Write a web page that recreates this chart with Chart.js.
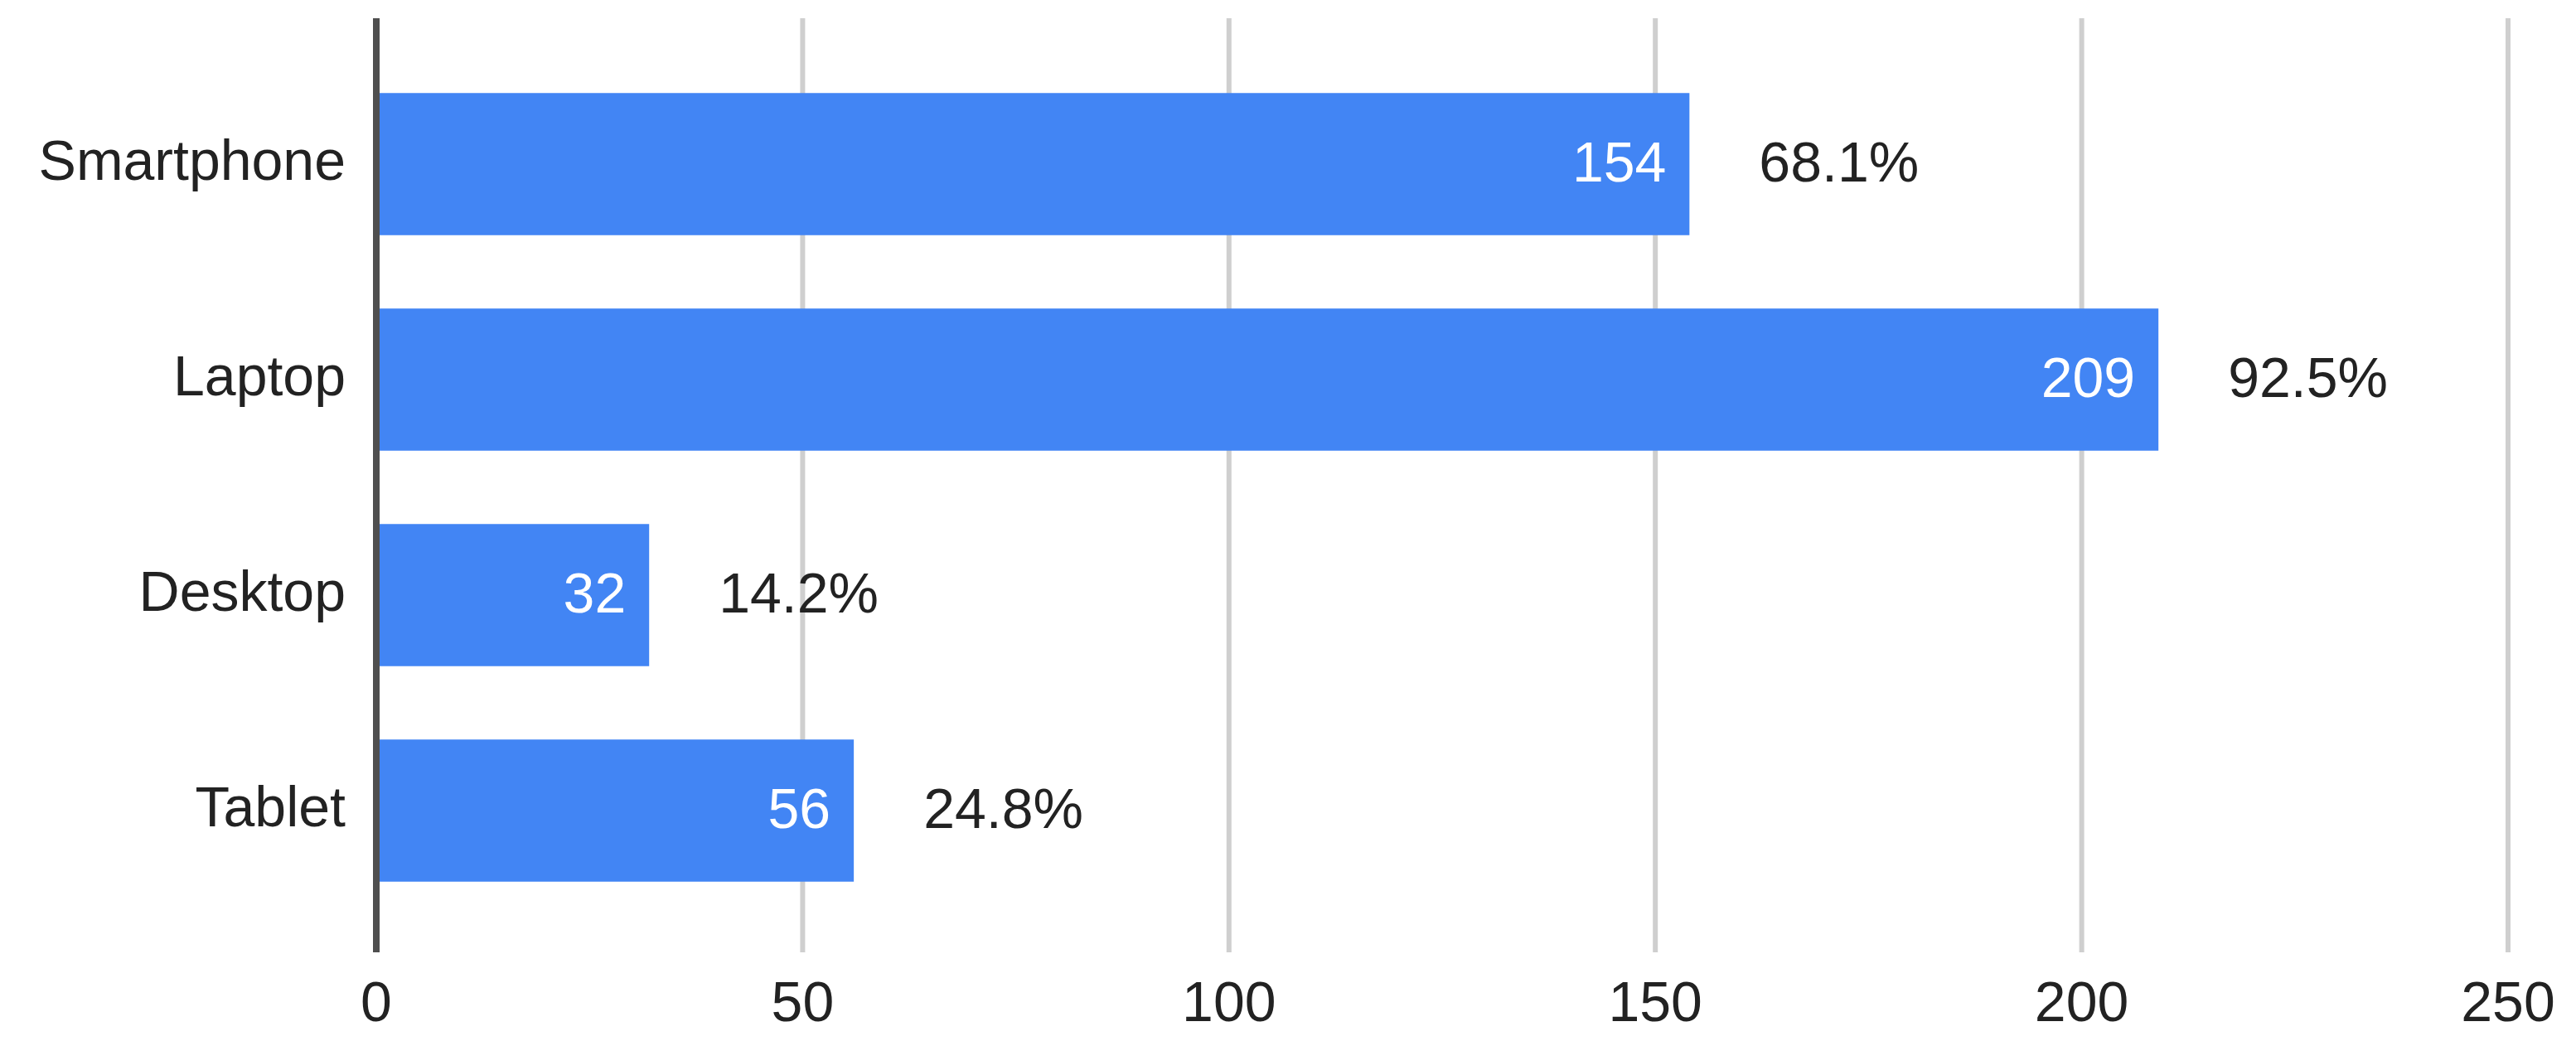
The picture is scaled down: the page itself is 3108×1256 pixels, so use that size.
<!DOCTYPE html>
<html>
<head>
<meta charset="utf-8">
<script src="https://cdn.jsdelivr.net/npm/chart.js@4.4.0/dist/chart.umd.min.js"></script>
<style>
  html, body { margin: 0; padding: 0; background: #fff; }
  #wrap { width: 3108px; height: 1256px; }
</style>
</head>
<body>
<div id="wrap"><canvas id="grafico"></canvas></div>
<script>
// dados
const categorias = ['Smartphone', 'Laptop', 'Desktop', 'Tablet'];
const valores = [154, 209, 32, 56];
const percentuais = ['68.1%', '92.5%', '14.2%', '24.8%'];
const eixoMin = 0;
const eixoMax = 250;
const passo = 50;

const fonte = '"Liberation Sans", Arial, sans-serif';
const corTexto = '#222222';

Chart.defaults.font.family = fonte;
Chart.defaults.font.size = 68;
Chart.defaults.color = corTexto;

// linhas de grade que passam um pouco da área do gráfico, e o eixo vertical escuro
const gradeEstendida = {
    id: 'gradeEstendida',
    beforeDatasetsDraw(chart) {
        const { ctx, chartArea, scales: { x } } = chart;
        ctx.save();
        ctx.strokeStyle = '#cfcfcf';
        ctx.lineWidth = 6;
        x.ticks.forEach(t => {
            const px = x.getPixelForValue(t.value);
            ctx.beginPath();
            ctx.moveTo(px, chartArea.top - 46);
            ctx.lineTo(px, chartArea.bottom + 41);
            ctx.stroke();
        });
        ctx.restore();
    },
    afterDatasetsDraw(chart) {
        const { ctx, chartArea, scales: { x } } = chart;
        const x0 = x.getPixelForValue(0);
        ctx.save();
        ctx.strokeStyle = '#4f4f4f';
        ctx.lineWidth = 8;
        ctx.beginPath();
        ctx.moveTo(x0, chartArea.top - 46);
        ctx.lineTo(x0, chartArea.bottom + 41);
        ctx.stroke();

        // rótulos: valor dentro da barra e percentual fora
        const meta = chart.getDatasetMeta(0);
        ctx.font = '68px ' + fonte;
        ctx.textBaseline = 'middle';
        meta.data.forEach((barra, i) => {
            ctx.fillStyle = '#ffffff';
            ctx.textAlign = 'right';
            ctx.fillText(String(valores[i]), barra.x - 28, barra.y + 2);
            ctx.fillStyle = corTexto;
            ctx.textAlign = 'left';
            ctx.fillText(percentuais[i], barra.x + 84, barra.y + 2);
        });
        ctx.restore();
    }
};

new Chart(document.getElementById('grafico'), {
    type: 'bar',
    data: {
        labels: categorias,
        datasets: [{
            label: 'Quantidade',
            data: valores,
            backgroundColor: '#4285F4',
            borderWidth: 0,
            barPercentage: 0.66,
            categoryPercentage: 1
        }]
    },
    options: {
        indexAxis: 'y',
        responsive: true,
        maintainAspectRatio: false,
        animation: false,
        layout: {
            padding: { top: 68, right: 82, left: 0, bottom: 0 }
        },
        plugins: {
            legend: { display: false },
            tooltip: { enabled: false }
        },
        scales: {
            x: {
                min: eixoMin,
                max: eixoMax,
                ticks: { stepSize: passo, padding: 64, color: corTexto },
                grid: { display: false, drawTicks: false },
                border: { display: false },
                afterFit: scale => {
                    scale.height = 148;
                    scale.paddingLeft = 0;
                    scale.paddingRight = 0;
                }
            },
            y: {
                ticks: { padding: 37, color: corTexto },
                grid: { display: false, drawTicks: false },
                border: { display: false },
                afterFit: scale => {
                    scale.width = 454;
                    scale.paddingTop = 0;
                    scale.paddingBottom = 0;
                }
            }
        }
    },
    plugins: [gradeEstendida]
});
</script>
</body>
</html>
